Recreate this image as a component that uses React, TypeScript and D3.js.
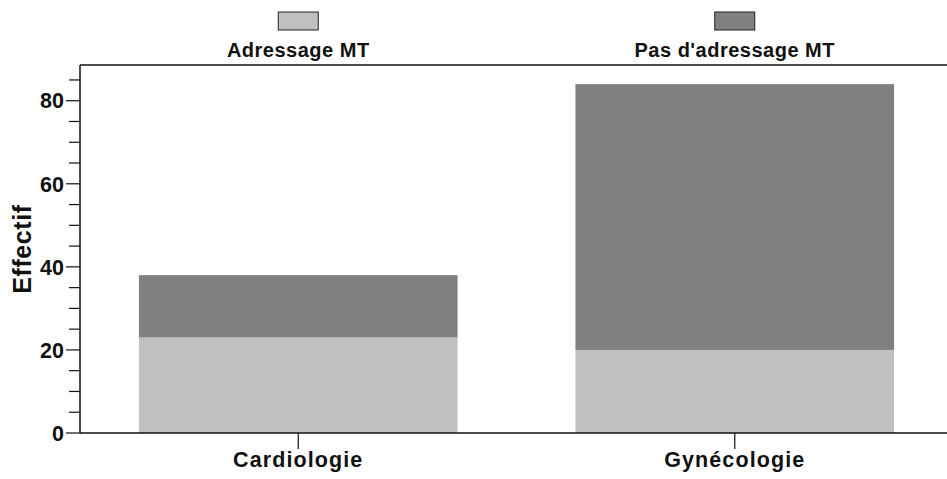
import React from "react";
import * as d3 from "d3";

const categories = ["Cardiologie", "Gynécologie"];
const seriesNames = ["Adressage MT", "Pas d'adressage MT"];
const adressage = [23, 20];
const pasAdressage = [15, 64];
const majorTicks = [0, 20, 40, 60, 80];
const minorTicks = [5, 10, 15, 25, 30, 35, 45, 50, 55, 65, 70, 75, 85];
const colors = ["#c0c0c0", "#808080"];

const W = 947;
const H = 479;
const left = 80;
const top = 65;
const bottom = 433;

export default function App() {
  const x = d3.scaleBand<string>().domain(categories).range([left, 953]).paddingInner(0.27).paddingOuter(0.135);
  const y = d3.scaleLinear().domain([0, 88.6]).range([bottom, top]);
  const rows = categories.map((c, i) => ({ cat: c, a: adressage[i], b: pasAdressage[i] }));
  const stack = d3.stack<any>().keys(["a", "b"])(rows);
  const font = "'Liberation Sans', Arial, sans-serif";
  return (
    <svg width={W} height={H} style={{ position: "absolute", left: 0, top: 0, background: "#fff" }} fontFamily={font}>
      {stack.map((layer, li) =>
        layer.map((d, i) => (
          <rect key={li + "-" + i} x={x(categories[i])} width={x.bandwidth()} y={y(d[1])} height={y(d[0]) - y(d[1])} fill={colors[li]} />
        ))
      )}
      {/* axes */}
      <line x1={left} x2={W} y1={top} y2={top} stroke="#111" strokeWidth={1.5} />
      <line x1={left} x2={W} y1={bottom} y2={bottom} stroke="#111" strokeWidth={1.5} />
      <line x1={left} x2={left} y1={top} y2={bottom} stroke="#111" strokeWidth={1.5} />
      {majorTicks.map((t) => (
        <g key={"M" + t}>
          <line x1={66} x2={left} y1={y(t)} y2={y(t)} stroke="#111" strokeWidth={1.2} />
          <text x={64} y={y(t)} dy="0.36em" textAnchor="end" fontSize={21.5} fontWeight="bold" fill="#111">{t}</text>
        </g>
      ))}
      {minorTicks.map((t) => (
        <line key={"m" + t} x1={69} x2={left} y1={y(t)} y2={y(t)} stroke="#111" strokeWidth={1.2} />
      ))}
      {categories.map((c) => {
        const cx = (x(c) as number) + x.bandwidth() / 2;
        return (
          <g key={c}>
            <line x1={cx} x2={cx} y1={bottom} y2={449} stroke="#111" strokeWidth={1.2} />
            <text x={cx} y={467} textAnchor="middle" fontSize={21.5} fontWeight="bold" letterSpacing={1.1} fill="#111">{c}</text>
          </g>
        );
      })}
      <text transform="translate(31,249) rotate(-90)" textAnchor="middle" fontSize={25} fontWeight="bold" letterSpacing={0.6} fill="#111">Effectif</text>
      {/* legend */}
      {seriesNames.map((s, i) => {
        const cx = (x(categories[i]) as number) + x.bandwidth() / 2;
        return (
          <g key={s}>
            <rect x={cx - 20} y={12} width={40} height={18} fill={colors[i]} stroke="#222" strokeWidth={1} />
            <text x={cx} y={56.5} textAnchor="middle" fontSize={20} fontWeight="bold" letterSpacing={0.5} fill="#111">{s}</text>
          </g>
        );
      })}
    </svg>
  );
}
